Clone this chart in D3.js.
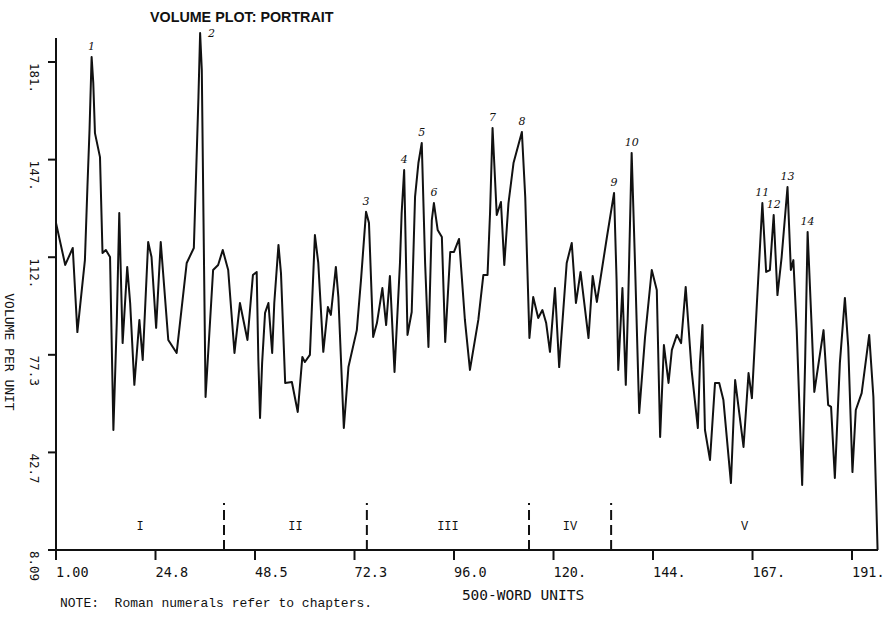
<!DOCTYPE html>
<html>
<head>
<meta charset="utf-8">
<script src="https://cdn.jsdelivr.net/npm/d3@7"></script>
<style>
  body { margin: 0; background: #fff; }
  text { fill: #111; }
</style>
</head>
<body>
<div id="container"></div>
<script>
/* CONSTANTS AND GLOBALS */
const width = 888,
  height = 619,
  margin = { top: 62, bottom: 69, left: 56, right: 10 };
let xScale, yScale

/* DATA */
// 500-word unit positions of the line vertices
const units = [1.0, 3.2, 5.0, 6.1, 7.9, 8.5, 9.0, 9.5, 9.9, 10.3, 11.5, 12.1, 12.9, 13.9, 14.7, 15.5, 16.1, 16.9, 18.0, 18.7,
  19.7, 20.9, 21.7, 23.0, 23.8, 24.9, 26.0, 27.8, 29.8, 32.2, 33.9, 35.0, 35.4, 35.8, 36.2, 36.7, 38.5, 39.7, 40.8, 42.1,
  43.6, 44.9, 46.7, 48.0, 48.9, 49.3, 49.7, 50.2, 50.9, 51.7, 52.6, 53.1, 54.1, 54.7, 55.7, 57.3, 58.7, 59.8, 60.4, 61.6,
  62.8, 63.6, 64.8, 65.9, 66.6, 67.8, 68.4, 69.7, 70.8, 72.8, 73.8, 75.0, 75.7, 76.7, 77.6, 78.9, 79.8, 80.7, 81.8, 83.1,
  83.5, 84.1, 84.9, 85.9, 86.7, 87.5, 88.3, 89.1, 89.9, 90.7, 91.2, 92.1, 93.1, 93.9, 95.1, 96.0, 97.2, 98.6, 99.8, 101.8,
  103.0, 104.0, 104.6, 105.2, 106.2, 107.2, 108.0, 109.0, 110.2, 112.2, 113.0, 114.0, 114.9, 116.1, 117.1, 118.0, 118.9, 120.1, 121.1, 122.9,
  124.1, 125.1, 126.2, 128.1, 129.1, 130.1, 132.5, 134.2, 134.8, 135.2, 136.2, 137.0, 137.6, 138.4, 139.2, 140.2, 141.6, 143.2, 144.4, 145.2,
  146.1, 147.2, 148.0, 149.2, 150.2, 151.3, 152.7, 154.2, 154.7, 155.3, 155.9, 157.1, 158.3, 159.3, 160.3, 162.1, 163.1, 165.1, 166.3, 167.1,
  168.3, 169.6, 170.5, 171.4, 172.3, 173.2, 174.2, 175.6, 176.4, 177.0, 177.8, 179.1, 179.8, 180.4, 181.4, 182.0, 184.2, 185.3, 186.0, 186.9,
  188.1, 189.3, 190.1, 191.1, 191.9, 193.3, 195.1, 196.1, 197.1];
// volume per unit at each vertex
const volume = [124.0, 109.1, 115.1, 85.3, 110.8, 136.7, 156.9, 182.8, 173.5, 155.8, 147.3, 113.3, 114.4, 111.9, 50.6, 88.5, 127.5, 81.4, 108.4, 95.6,
  66.6, 89.6, 75.4, 117.2, 111.9, 86.8, 117.2, 82.5, 77.9, 109.8, 115.1, 168.6, 191.3, 178.2, 126.1, 62.3, 107.3, 109.1, 114.4, 107.3,
  77.9, 95.6, 82.5, 105.5, 106.6, 75.4, 54.9, 74.4, 92.1, 95.6, 77.9, 95.6, 116.2, 106.2, 67.3, 67.6, 57.0, 76.5, 74.7, 77.2,
  119.7, 109.8, 78.3, 94.2, 91.4, 108.4, 97.7, 51.3, 72.9, 86.0, 103.8, 127.9, 124.0, 83.6, 88.5, 100.9, 87.8, 105.2, 71.2, 109.8,
  127.5, 142.7, 84.3, 92.4, 133.2, 145.2, 152.3, 109.8, 80.0, 125.0, 131.0, 121.5, 119.0, 81.8, 113.7, 113.7, 118.3, 89.6, 71.9, 89.6,
  105.5, 105.5, 127.5, 157.6, 126.8, 131.4, 109.1, 131.0, 145.2, 156.2, 133.2, 83.2, 97.7, 90.3, 93.1, 88.5, 78.3, 100.9, 72.9, 109.8,
  116.9, 95.6, 106.6, 83.2, 105.2, 96.0, 119.0, 134.6, 103.8, 71.9, 100.9, 66.6, 97.7, 148.8, 109.8, 56.6, 83.6, 107.3, 100.2, 48.1,
  80.7, 67.3, 79.0, 84.3, 81.4, 101.3, 71.9, 51.3, 74.4, 87.8, 50.6, 40.0, 67.3, 67.3, 61.2, 31.8, 68.3, 44.6, 70.8, 61.9,
  95.6, 131.0, 106.6, 107.3, 126.8, 98.4, 111.9, 136.7, 107.3, 110.8, 86.0, 31.1, 74.4, 120.8, 86.0, 64.1, 86.0, 59.5, 58.8, 33.6,
  74.4, 97.4, 80.0, 35.7, 57.7, 63.7, 84.3, 62.3, 8.1];

// hand-numbered peaks (index into the vertex arrays)
const peakIdx = [7, 32, 71, 81, 86, 90, 103, 109, 127, 133, 161, 164, 167, 173];
const peakNames = ["1", "2", "3", "4", "5", "6", "7", "8", "9", "10", "11", "12", "13", "14"];

// chapter boundaries and names
const chapterBreaks = [41.1, 75.2, 113.9, 133.5];
const chapterNames = ["I", "II", "III", "IV", "V"];
const breakTop = 24.7;

// axis ticks
const xTicks = [1, 24.75, 48.5, 72.25, 96, 119.75, 143.5, 167.25, 191];
const xTickLabels = ["1.00", "24.8", "48.5", "72.3", "96.0", "120.", "144.", "167.", "191."];
const yTicks = [8.09, 42.67, 77.25, 111.83, 146.41, 181];
const yTickLabels = ["8.09", "42.7", "77.3", "112.", "147.", "181."];

const xDomain = [1, 197.2];
const yTop = 189.5;

init();

/* INITIALIZING FUNCTION */
function init() {
  xScale = d3.scaleLinear()
    .domain(xDomain)
    .range([margin.left, 878])

  yScale = d3.scaleLinear()
    .domain([8.09, 181])
    .range([height - margin.bottom, margin.top])

  draw();
}

/* DRAW FUNCTION */
function draw() {
  const svg = d3.select("#container")
    .append("svg")
    .attr("width", width)
    .attr("height", height)
    .style("background-color", "#fff")

  const ink = "#111";
  const plotFont = "'DejaVu Sans Mono', monospace";
  const typeFont = "'Liberation Mono', 'Courier New', monospace";

  // title
  svg.append("text")
    .attr("x", 150)
    .attr("y", 22)
    .style("font-family", "'Liberation Sans', Arial, sans-serif")
    .style("font-weight", "bold")
    .style("font-size", "14.3px")
    .text("VOLUME PLOT: PORTRAIT");

  // axis lines
  const y0 = yScale(8.09);
  svg.append("line")
    .attr("x1", xScale(1)).attr("x2", xScale(1))
    .attr("y1", y0).attr("y2", yScale(yTop))
    .attr("stroke", ink).attr("stroke-width", 2);
  svg.append("line")
    .attr("x1", xScale(1)).attr("x2", xScale(xDomain[1]))
    .attr("y1", y0).attr("y2", y0)
    .attr("stroke", ink).attr("stroke-width", 2);

  // x ticks
  const xt = svg.append("g");
  xt.selectAll("line")
    .data(xTicks)
    .join("line")
    .attr("x1", d => xScale(d)).attr("x2", d => xScale(d))
    .attr("y1", y0).attr("y2", y0 + 10)
    .attr("stroke", ink).attr("stroke-width", 2);
  xt.selectAll("text")
    .data(xTicks)
    .join("text")
    .attr("x", d => xScale(d))
    .attr("y", y0 + 27)
    .style("font-family", plotFont)
    .style("font-size", "13.5px")
    .text((d, i) => xTickLabels[i]);

  // y ticks
  const yt = svg.append("g");
  yt.selectAll("line")
    .data(yTicks)
    .join("line")
    .attr("x1", xScale(1) - 8).attr("x2", xScale(1))
    .attr("y1", d => yScale(d)).attr("y2", d => yScale(d))
    .attr("stroke", ink).attr("stroke-width", 2);
  yt.selectAll("text")
    .data(yTicks)
    .join("text")
    .attr("transform", d => `translate(30,${yScale(d) + 1})rotate(90)`)
    .style("font-family", plotFont)
    .style("font-size", "12.5px")
    .text((d, i) => yTickLabels[i]);

  // axis titles
  svg.append("text")
    .attr("transform", "translate(5,352)rotate(90)")
    .attr("text-anchor", "middle")
    .style("font-family", plotFont)
    .style("font-size", "13px")
    .text("VOLUME PER UNIT");
  svg.append("text")
    .attr("x", 523)
    .attr("y", 600)
    .attr("text-anchor", "middle")
    .style("font-family", plotFont)
    .style("font-size", "14.5px")
    .text("500-WORD UNITS");

  // chapter breaks (dashed)
  svg.selectAll("line.break")
    .data(chapterBreaks)
    .join("line")
    .attr("class", "break")
    .attr("x1", d => xScale(d)).attr("x2", d => xScale(d))
    .attr("y1", y0).attr("y2", yScale(breakTop))
    .attr("stroke", ink).attr("stroke-width", 2)
    .attr("stroke-dasharray", "10,5");

  // chapter names, centred in each chapter
  const edges = [xDomain[0], ...chapterBreaks, xDomain[1]];
  svg.selectAll("text.chapter")
    .data(chapterNames)
    .join("text")
    .attr("class", "chapter")
    .attr("x", (d, i) => xScale((edges[i] + edges[i + 1]) / 2))
    .attr("y", 530)
    .attr("text-anchor", "middle")
    .style("font-family", typeFont)
    .style("font-size", "12px")
    .text(d => d);

  // volume line
  const pts = units.map((u, i) => [u, volume[i]]);
  const line = d3.line()
    .x(d => xScale(d[0]))
    .y(d => yScale(d[1]));
  svg.append("path")
    .datum(pts)
    .attr("d", line)
    .attr("fill", "none")
    .attr("stroke", ink)
    .attr("stroke-width", 2)
    .attr("stroke-linejoin", "round");

  // handwritten peak numbers
  svg.selectAll("text.peak")
    .data(peakIdx)
    .join("text")
    .attr("class", "peak")
    .attr("x", (d, i) => xScale(units[d]) + (i === 1 ? 8 : 0))
    .attr("y", (d, i) => yScale(volume[d]) - (i === 1 ? -4 : 7))
    .attr("text-anchor", (d, i) => i === 1 ? "start" : "middle")
    .style("font-family", "'DejaVu Serif', serif")
    .style("font-style", "italic")
    .style("font-size", "11px")
    .text((d, i) => peakNames[i]);

  // footnote
  svg.append("text")
    .attr("x", 60)
    .attr("y", 607)
    .style("font-family", typeFont)
    .style("font-size", "13px")
    .style("white-space", "pre")
    .text("NOTE:  Roman numerals refer to chapters.");
}
</script>
</body>
</html>
